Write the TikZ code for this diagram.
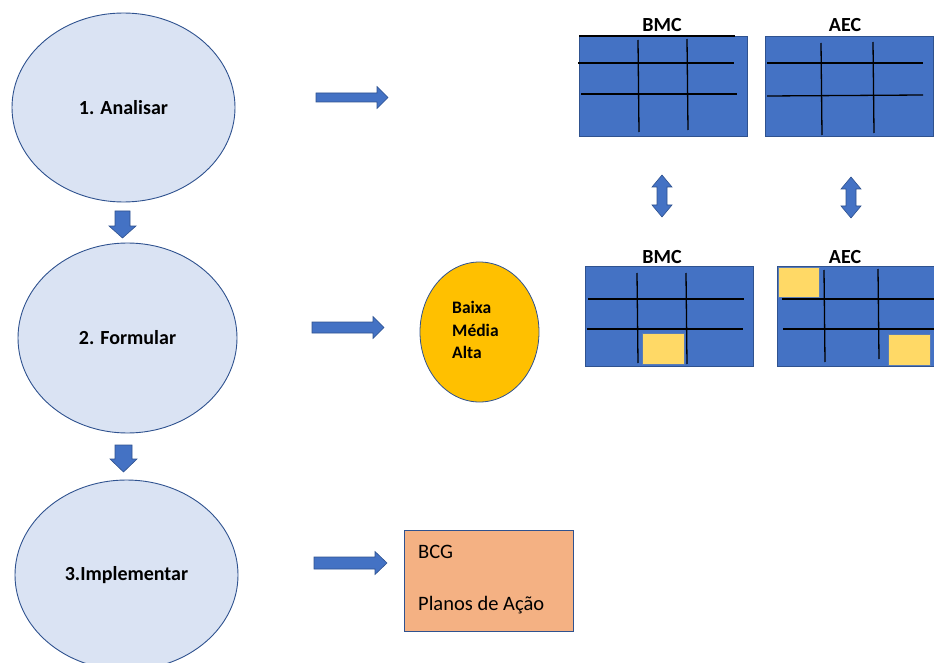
\documentclass[tikz,border=0pt]{standalone}
\usepackage{fontspec}
\setmainfont{Carlito}
\usetikzlibrary{shapes.geometric}

\definecolor{ellfill}{HTML}{DAE3F3}
\definecolor{edgeblue}{HTML}{2F528F}
\definecolor{boxblue}{HTML}{4472C4}
\definecolor{gold}{HTML}{FFC000}
\definecolor{peach}{HTML}{F4B183}
\definecolor{pale}{HTML}{FFD966}
\definecolor{paleedge}{HTML}{5B7DB5}

% block arrows: right-pointing, down-pointing and up/down
\newcommand\rightblock[6]{% x1, x2, y, shaft half, head half, head length
  \filldraw[blockarrow] (#1,#3-#4) -- (#2-#6,#3-#4) -- (#2-#6,#3-#5) -- (#2,#3)
    -- (#2-#6,#3+#5) -- (#2-#6,#3+#4) -- (#1,#3+#4) -- cycle;}
\newcommand\downblock[6]{% x, y1, y2, shaft half, head half, head length
  \filldraw[blockarrow] (#1-#4,#2) -- (#1+#4,#2) -- (#1+#4,#3-#6) -- (#1+#5,#3-#6)
    -- (#1,#3) -- (#1-#5,#3-#6) -- (#1-#4,#3-#6) -- cycle;}
\newcommand\updownblock[6]{% x, y1, y2, shaft half, head half, head length
  \filldraw[blockarrow] (#1,#2) -- (#1+#5,#2+#6) -- (#1+#4,#2+#6) -- (#1+#4,#3-#6)
    -- (#1+#5,#3-#6) -- (#1,#3) -- (#1-#5,#3-#6) -- (#1-#4,#3-#6)
    -- (#1-#4,#2+#6) -- (#1-#5,#2+#6) -- cycle;}

\begin{document}
\begin{tikzpicture}[x=1pt,y=-1pt,
  stage/.style={ellipse, draw=edgeblue, line width=0.9, fill=ellfill, inner sep=0,
    font=\fontsize{20}{24}\selectfont\bfseries},
  canvas/.style={rectangle, draw=edgeblue, line width=0.8, fill=boxblue, inner sep=0,
    minimum width=168, minimum height=100},
  gridline/.style={black, line width=1.3},
  marker/.style={rectangle, draw=paleedge, line width=0.8, fill=pale, inner sep=0},
  title/.style={font=\fontsize{20}{24}\selectfont\bfseries, inner sep=0},
  blockarrow/.style={fill=boxblue, draw=edgeblue, line width=0.6},
  plain/.style={font=\fontsize{20.5}{24}\selectfont, inner sep=0, anchor=west}]

\useasboundingbox (0,0) rectangle (934,663);
\clip (0,0) rectangle (934,663);

% the three stages
\node[stage, minimum width=223, minimum height=189] (s1) at (123.5,107.5) {1. Analisar};
\node[stage, minimum width=219, minimum height=190] (s2) at (127.5,338) {2. Formular};
\node[stage, minimum width=223, minimum height=190] (s3) at (126.5,575) {3.Implementar};

\downblock{122.5}{211}{238}{7.5}{13.5}{12}
\downblock{123.5}{445}{472}{8.5}{13.5}{13}

% stage 1: canvases
\node[title] (t1) at (662,25) {BMC};
\node[title] (t2) at (845,25) {AEC};
\node[canvas] (bmc1) at (663,86) {};
\node[canvas] (aec1) at (849,86) {};
\draw[black, line width=1.6] (579,36) -- (735,36);
\draw[gridline] (578,63) -- (734,63);
\draw[gridline] (581,94) -- (737,94);
\draw[gridline] (638,40) -- (639,132);
\draw[gridline] (687,39) -- (688,130);
\draw[gridline] (767,63) -- (923,63);
\draw[gridline] (767,96) -- (923,95);
\draw[gridline] (821,43) -- (822,135);
\draw[gridline] (873,42) -- (874,133);

\rightblock{316}{388}{97.5}{4.5}{11}{11}

\updownblock{662}{175}{217}{5}{10}{12}
\updownblock{851}{177}{218}{5}{10}{12}

% stage 2: rated canvases
\node[title] (t3) at (662,257) {BMC};
\node[title] (t4) at (845,257) {AEC};
\node[canvas] (bmc2) at (669,316) {};
\node[canvas] (aec2) at (861,316) {};
\draw[gridline] (588,299) -- (744,299);
\draw[gridline] (587,329) -- (743,329);
\draw[gridline] (637,273) -- (638,363);
\draw[gridline] (686,273) -- (687,364);
\node[marker, minimum width=42, minimum height=31] (m1) at (663,348.5) {};

\draw[gridline] (782,299) -- (934,299);
\draw[gridline] (783,329) -- (934,329);
\draw[gridline] (824,270) -- (825,362);
\draw[gridline] (878,269) -- (879,359);
\node[marker, minimum width=41, minimum height=30] (m2) at (798.5,282) {};
\node[marker, minimum width=42, minimum height=31] (m3) at (909,349.5) {};

\rightblock{312}{384}{327.5}{5.5}{11}{11}

\node[ellipse, draw=edgeblue, line width=0.8, fill=gold, inner sep=0,
  minimum width=119, minimum height=140] (lvl) at (479.5,332) {};
\node[inner sep=0, anchor=west, align=left,
  font=\fontsize{17.5}{22.5}\selectfont\bfseries] (lvltext) at (452,330)
  {Baixa\\Média\\Alta};

% stage 3: tools
\rightblock{314}{387}{563}{6}{11.5}{12}
\node[rectangle, draw=edgeblue, line width=0.8, fill=peach, inner sep=0,
  minimum width=169, minimum height=101] (tools) at (488.5,580.5) {};
\node[plain] (bcg) at (418,552) {BCG};
\node[plain] (plans) at (418,605) {Planos de Ação};

\end{tikzpicture}
\end{document}
